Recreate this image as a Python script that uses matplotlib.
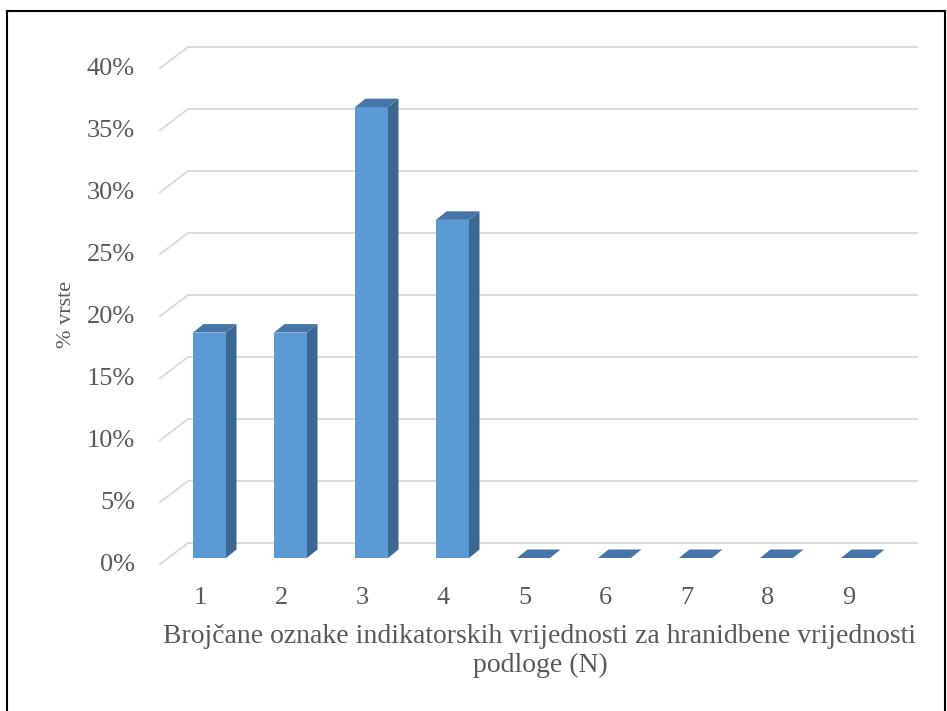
import matplotlib.pyplot as plt
from matplotlib.patches import Polygon, Rectangle

# Data: share of species per N indicator value
categories = ["1", "2", "3", "4", "5", "6", "7", "8", "9"]
values = [18.18, 18.18, 36.36, 27.27, 0, 0, 0, 0, 0]
yticks = [0, 5, 10, 15, 20, 25, 30, 35, 40]
xlabel = "Brojčane oznake indikatorskih vrijednosti za hranidbene vrijednosti\npodloge (N)"
ylabel = "% vrste"

plt.rcParams['font.family'] = ['Liberation Serif', 'DejaVu Serif']
txt = '#595959'
grid_c = '#D9D9D9'
front_c, side_c, top_c = '#5B9BD5', '#3B6793', '#4676A9'

W, H = 947, 711
fig = plt.figure(figsize=(W / 100, H / 100), dpi=100)
ax = fig.add_axes([0, 0, 1, 1])
ax.axis('off')

# scale: one category = 81 px, 1 % = 12.4 px; bar-plane origin at px (209.5, 558)
sx, sy = 81.0, 12.4
ax.set_xlim(1 - 209.5 / sx, 1 + (W - 209.5) / sx)
ax.set_ylim(-(H - 558) / sy, 558 / sy)

# 3d offsets (data units)
dxf, dyf = -9 / sx, -7 / sy      # front edge of the wall
dxb, dyb = 20 / sx, 15 / sy      # back wall
dxd, dyd = 10.5 / sx, 8.5 / sy   # bar depth
bw = 33 / sx
left_x = 1 + (168 - 209.5) / sx
right_x = 1 + (918 - 209.5) / sx - dxb

for v in yticks:
    ax.plot([left_x + dxf, left_x + dxb, right_x + dxb],
            [v + dyf, v + dyb, v + dyb], color=grid_c, lw=1.3, zorder=1,
            solid_capstyle='butt')
    ax.text(left_x + dxf - 24 / sx, v + dyf, f"{v}%", ha='right', va='center',
            fontsize=19, color=txt)

for i, (c, v) in enumerate(zip(categories, values)):
    x0 = i + 1 - bw / 2
    x1 = i + 1 + bw / 2
    front = [(x0, 0), (x1, 0), (x1, v), (x0, v)]
    side = [(x1, 0), (x1 + dxd, dyd), (x1 + dxd, v + dyd), (x1, v)]
    top = [(x0, v), (x1, v), (x1 + dxd, v + dyd), (x0 + dxd, v + dyd)]
    if v > 0:
        ax.add_patch(Polygon(front, closed=True, fc=front_c, ec='none', zorder=3))
        ax.add_patch(Polygon(side, closed=True, fc=side_c, ec='none', zorder=3))
    ax.add_patch(Polygon(top, closed=True, fc=top_c, ec='none', zorder=3))
    ax.text(i + 1 + dxf, (558 - 598) / sy, c, ha='center', va='center',
            fontsize=19, color=txt)

fig.text(540 / W, 1 - 651 / H, xlabel, ha='center', va='center',
         multialignment='center', fontsize=20, color=txt, linespacing=1.2)
fig.text(66 / W, 1 - 314 / H, ylabel, ha='center', va='center', rotation=90,
         fontsize=16, color=txt)

# outer frame
fig.patches.append(Rectangle((7 / W, -0.05), (945 - 7) / W, 1 - 11 / H + 0.05,
                             transform=fig.transFigure, fill=False,
                             ec='black', lw=1.5))

fig.savefig("out.png", dpi=100)
